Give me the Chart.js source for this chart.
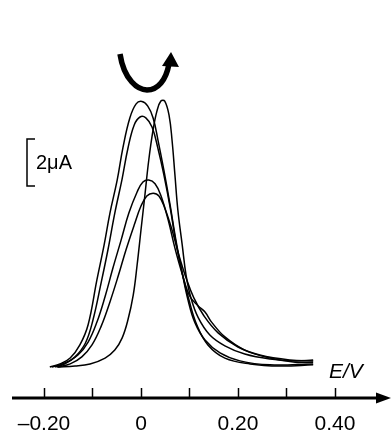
<!DOCTYPE html>
<html lang="en">
<head>
<meta charset="UTF-8">
<script src="https://cdn.jsdelivr.net/npm/chart.js"></script>
<title>Voltammograms</title>
<style>
    *{ margin: 0; padding: 0; }
    body, html{ width: 391px; height: 431px; background: white; overflow: hidden; }
    #wrap{ width: 391px; height: 431px; }
</style>
</head>
<body>
<div id="wrap"><canvas id="chart"></canvas></div>
<script>
// potential E / V and current I / uA (baseline = 0)
const eA = [-0.173,-0.136,-0.105,-0.074,-0.054,-0.039,-0.027,-0.016,-0.008,0,0.008,0.016,0.025,0.033,0.041,0.049,0.058,0.064,0.070,0.076,0.085,0.093,0.103,0.118,0.142,0.173,0.214,0.266,0.318,0.355]
const iA = [0,0.04,0.13,0.38,0.72,1.23,2.0,3.06,4.34,5.83,7.3,8.8,10.1,10.9,11.32,11.32,10.7,9.66,8.17,6.68,5.2,3.9,2.94,2.1,1.36,0.9,0.55,0.34,0.26,0.3]

const eB = [-0.188,-0.167,-0.146,-0.126,-0.109,-0.091,-0.076,-0.064,-0.049,-0.037,-0.023,-0.010,0.002,0.014,0.025,0.035,0.047,0.060,0.072,0.085,0.097,0.111,0.132,0.163,0.204,0.266,0.355]
const iB = [0,0.13,0.38,0.94,1.8,3.7,5.2,6.55,7.96,9.36,10.6,11.2,11.3,11.1,10.6,9.66,8.4,6.9,5.4,4.0,2.85,1.9,1.15,0.6,0.26,0.09,0.13]

const eC = [-0.177,-0.157,-0.136,-0.115,-0.099,-0.082,-0.068,-0.054,-0.039,-0.027,-0.014,-0.002,0.010,0.023,0.035,0.047,0.060,0.072,0.085,0.099,0.115,0.138,0.173,0.225,0.287,0.355]
const iC = [0,0.13,0.43,1.0,2.0,3.6,5.0,6.55,8.0,9.3,10.3,10.64,10.6,10.2,9.3,8.2,6.8,5.3,4.0,2.85,1.8,0.94,0.38,0.13,0.04,0.09]

const eD = [-0.184,-0.157,-0.130,-0.109,-0.091,-0.074,-0.058,-0.041,-0.025,-0.008,0.004,0.016,0.029,0.041,0.056,0.070,0.085,0.101,0.118,0.132,0.146,0.173,0.214,0.266,0.318,0.355]
const iD = [0,0.17,0.51,1.06,1.9,3.0,4.2,5.4,6.55,7.45,7.87,7.96,7.8,7.3,6.26,5.06,3.96,3.0,2.6,2.34,1.9,1.28,0.72,0.38,0.2,0.2]

const eE = [-0.171,-0.146,-0.122,-0.101,-0.082,-0.064,-0.047,-0.031,-0.014,0,0.012,0.025,0.037,0.049,0.064,0.078,0.093,0.109,0.130,0.159,0.200,0.245,0.307,0.355]
const iE = [0,0.13,0.43,0.94,1.74,2.77,3.87,4.98,6.04,6.85,7.28,7.4,7.28,6.77,5.83,4.77,3.79,2.94,2.17,1.45,0.85,0.51,0.3,0.26]

const xTicks = [-0.2,-0.1,0,0.1,0.2,0.3,0.4]
const xLabels = ["\u20130.20","","0","","0.20","","0.40"]
const scaleBar = 2  // uA

function pts(e, i){
    return e.map((v, k) => ({x: v, y: i[k]}))
}

const series = [[eA,iA],[eB,iB],[eC,iC],[eD,iD],[eE,iE]]

// axis with arrow, inward ticks, E/V, scale bar and the turning arrow
const extras = {
    id: "extras",
    afterDraw(chart){
        const ctx = chart.ctx
        const xs = chart.scales.x
        const ys = chart.scales.y
        const yAxis = chart.chartArea.bottom
        ctx.save()
        ctx.strokeStyle = "#000"
        ctx.fillStyle = "#000"
        // axis line
        ctx.lineWidth = 3.2
        ctx.beginPath()
        ctx.moveTo(12, yAxis)
        ctx.lineTo(378, yAxis)
        ctx.stroke()
        ctx.beginPath()
        ctx.moveTo(391, yAxis)
        ctx.lineTo(376, yAxis - 5.5)
        ctx.lineTo(376, yAxis + 5.5)
        ctx.closePath()
        ctx.fill()
        // ticks
        ctx.lineWidth = 1.5
        xTicks.forEach(v => {
            const p = Math.round(xs.getPixelForValue(v)) + 0.5
            ctx.beginPath()
            ctx.moveTo(p, yAxis)
            ctx.lineTo(p, yAxis - 10)
            ctx.stroke()
        })
        // E/V
        ctx.font = "italic 21px 'Liberation Sans', Arial, sans-serif"
        ctx.textAlign = "left"
        ctx.textBaseline = "alphabetic"
        ctx.fillText("E/V", 329, 378)
        // scale bar
        const top = ys.getPixelForValue(9.7)
        const bot = ys.getPixelForValue(9.7 - scaleBar)
        ctx.lineWidth = 1.5
        ctx.beginPath()
        ctx.moveTo(35, top)
        ctx.lineTo(27, top)
        ctx.lineTo(27, bot)
        ctx.lineTo(35, bot)
        ctx.stroke()
        ctx.font = "20px 'Liberation Sans', Arial, sans-serif"
        ctx.textBaseline = "middle"
        ctx.fillText("2\u03bcA", 36, (top + bot) / 2 + 1)
        // turning arrow
        ctx.lineWidth = 5.5
        ctx.lineCap = "butt"
        ctx.beginPath()
        ctx.moveTo(120, 54)
        ctx.bezierCurveTo(124, 80, 138, 90, 147, 90)
        ctx.bezierCurveTo(158, 90, 166, 80, 169, 64)
        ctx.stroke()
        ctx.beginPath()
        ctx.moveTo(171, 52)
        ctx.lineTo(179, 67)
        ctx.lineTo(162, 66)
        ctx.closePath()
        ctx.fill()
        ctx.restore()
    }
}

new Chart(document.getElementById("chart"), {
    type: "line",
    data: {
        datasets: series.map(s => ({
            data: pts(s[0], s[1]),
            borderColor: "#000",
            borderWidth: 1.5,
            pointRadius: 0,
            tension: 0.4,
            fill: false
        }))
    },
    options: {
        responsive: true,
        maintainAspectRatio: false,
        animation: false,
        layout: { padding: 0 },
        plugins: { legend: { display: false }, tooltip: { enabled: false } },
        scales: {
            x: {
                type: "linear",
                min: -0.2907,
                max: 0.5155,
                afterBuildTicks: s => { s.ticks = xTicks.map(v => ({value: v})) },
                afterFit: s => { s.height = 33 },
                grid: { display: false, drawTicks: false },
                border: { display: false },
                ticks: {
                    padding: 14,
                    color: "#000",
                    font: { family: "'Liberation Sans', Arial, sans-serif", size: 21 },
                    maxRotation: 0,
                    autoSkip: false,
                    callback: (v, k) => xLabels[k]
                }
            },
            y: {
                display: false,
                min: -1.32,
                max: 15.62
            }
        }
    },
    plugins: [extras]
})
</script>
</body>
</html>
